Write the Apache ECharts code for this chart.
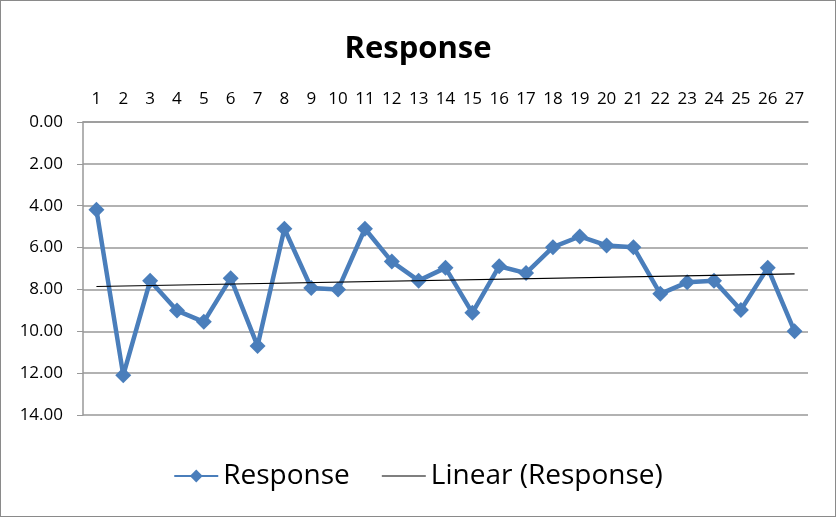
<!DOCTYPE html>
<html>
<head>
<meta charset="utf-8">
<script src="https://cdn.jsdelivr.net/npm/echarts@6/dist/echarts.min.js"></script>
<style>
html,body{margin:0;padding:0;background:#fff;}
#wrap{position:absolute;left:0;top:0;width:834px;height:515px;border:1px solid #8a8a8a;}
#chart{width:834px;height:515px;}
</style>
</head>
<body>
<div id="wrap"><div id="chart"></div></div>
<script>
const categories = ['1','2','3','4','5','6','7','8','9','10','11','12','13','14','15','16','17','18','19','20','21','22','23','24','25','26','27'];
const responseValues = [4.19,12.1,7.59,9.01,9.55,7.46,10.7,5.10,7.93,8.0,5.10,6.67,7.58,6.97,9.12,6.89,7.22,5.98,5.47,5.90,5.98,8.21,7.66,7.58,8.98,6.97,10.0];
const trendEnds = [7.86, 7.26];
const yTicks = [0,2,4,6,8,10,12,14];

const trendData = categories.map((c,i)=> i===0 ? trendEnds[0] : (i===categories.length-1 ? trendEnds[1] : null));
const FONT = '"Open Sans", "Liberation Sans", sans-serif';

const chart = echarts.init(document.getElementById('chart'));
chart.setOption({
  animation:false,
  title:{text:'Response',left:'center',top:28,textStyle:{fontFamily:FONT,fontWeight:'bold',fontSize:31,color:'#000'}},
  grid:{left:82,right:27,top:121,bottom:101},
  legend:{
    bottom:21,left:'center',itemGap:32,itemWidth:44,itemHeight:16,
    textStyle:{fontFamily:FONT,fontSize:28,color:'#000'},
    data:[
      {name:'Response'},
      {name:'Linear (Response)',icon:'path://M0,0L40,0L40,1.1L0,1.1Z',itemStyle:{color:'#000'}}
    ]
  },
  xAxis:{
    type:'category',data:categories,position:'top',boundaryGap:true,
    axisLine:{lineStyle:{color:'#999',width:1.5}},
    axisTick:{inside:false,length:6,lineStyle:{color:'#999'}},
    axisLabel:{fontFamily:FONT,fontSize:17,color:'#000',margin:14,interval:0},
    splitLine:{show:false}
  },
  yAxis:{
    type:'value',inverse:true,min:yTicks[0],max:yTicks[yTicks.length-1],interval:2,
    axisLine:{show:true,lineStyle:{color:'#999',width:1.5}},
    axisTick:{show:true,length:6,lineStyle:{color:'#999'}},
    axisLabel:{fontFamily:FONT,fontSize:17,color:'#000',margin:20,formatter:v=>v.toFixed(2)},
    splitLine:{lineStyle:{color:'#999',width:1.5}}
  },
  series:[
    {name:'Response',type:'line',data:responseValues,symbol:'diamond',symbolSize:16,
     lineStyle:{color:'#4A7EBB',width:4.5},itemStyle:{color:'#4A7EBB'},z:3},
    {name:'Linear (Response)',type:'line',data:trendData,connectNulls:true,symbol:'none',
     lineStyle:{color:'#000',width:1.2},itemStyle:{color:'#000'},z:4}
  ]
});
</script>
</body>
</html>
